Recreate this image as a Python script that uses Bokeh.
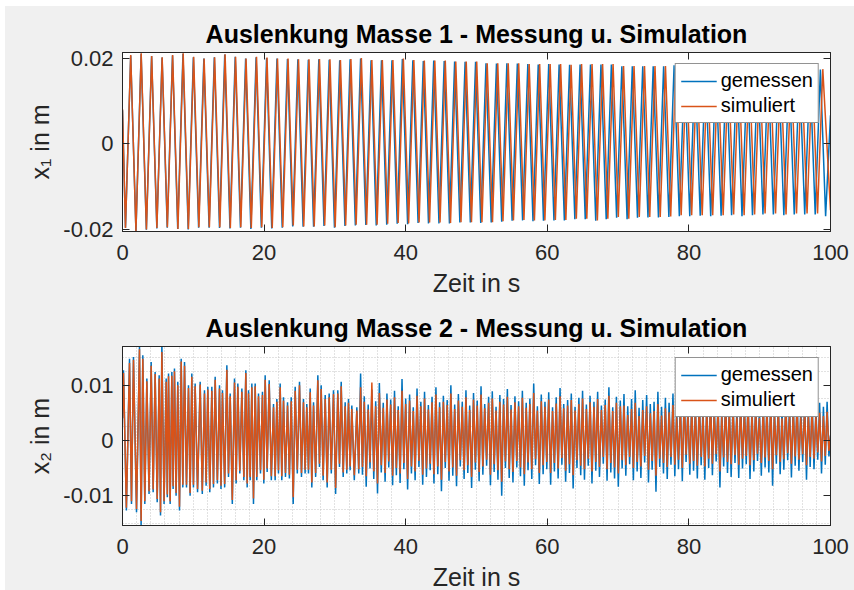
from bokeh.plotting import figure
from bokeh.models import (FixedTicker, Legend, LegendItem, LinearAxis, Range1d, Column)
from bokeh.embed import file_html
from bokeh.resources import INLINE

# ---------------- data (values in mm) ----------------
x_ticks = [0, 20, 40, 60, 80, 100]
y1_ticks = [-0.02, 0, 0.02]
y1_tick_labels = ["-0.02", "0", "0.02"]
y2_ticks = [-0.01, 0, 0.01]
y2_tick_labels = ["-0.01", "0", "0.01"]

titles = ["Auslenkung Masse 1 - Messung u. Simulation",
          "Auslenkung Masse 2 - Messung u. Simulation"]
x_label = "Zeit in s"
y_labels = ["x\u2081 in m", "x\u2082 in m"]
series_names = ["gemessen", "simuliert"]

# Mass 1: extrema times (alternating trough / peak), start value, trough and peak values
x1_meas_start = 7.9
x1_meas_t = [0.42, 1.16, 1.90, 2.63, 3.37, 4.11, 4.85, 5.59, 6.32, 7.06,
             7.80, 8.54, 9.28, 10.01, 10.75, 11.49, 12.23, 12.97, 13.70, 14.44,
             15.18, 15.92, 16.66, 17.39, 18.13, 18.87, 19.61, 20.35, 21.08, 21.82,
             22.56, 23.30, 24.04, 24.77, 25.51, 26.25, 26.99, 27.73, 28.46, 29.20,
             29.94, 30.68, 31.42, 32.15, 32.89, 33.63, 34.37, 35.11, 35.84, 36.58,
             37.32, 38.06, 38.80, 39.53, 40.27, 41.01, 41.75, 42.49, 43.22, 43.96,
             44.70, 45.44, 46.18, 46.91, 47.65, 48.39, 49.13, 49.87, 50.60, 51.34,
             52.08, 52.82, 53.56, 54.29, 55.03, 55.77, 56.51, 57.25, 57.98, 58.72,
             59.46, 60.20, 60.94, 61.67, 62.41, 63.15, 63.89, 64.63, 65.36, 66.10,
             66.84, 67.58, 68.32, 69.05, 69.79, 70.53, 71.27, 72.01, 72.74, 73.48,
             74.22, 74.96, 75.70, 76.43, 77.17, 77.91, 78.65, 79.39, 80.12, 80.86,
             81.60, 82.34, 83.08, 83.81, 84.55, 85.29, 86.03, 86.77, 87.50, 88.24,
             88.98, 89.72, 90.46, 91.19, 91.93, 92.67, 93.41, 94.15, 94.88, 95.62,
             96.36, 97.10, 97.84, 98.57, 99.31, 100.0]
x1_meas_low = [-19.6, -20.5, -20.1, -19.8, -19.6, -19.9, -20.0, -19.6, -19.6, -19.7,
               -19.8, -19.6, -19.9, -19.6, -19.8, -19.6, -19.3, -19.4, -19.4, -19.2,
               -19.6, -19.2, -19.1, -19.0, -19.1, -18.9, -18.7, -18.8, -18.5, -18.6,
               -18.6, -18.6, -18.4, -18.4, -18.5, -18.4, -18.2, -18.0, -17.9, -18.1,
               -18.0, -17.9, -17.9, -17.6, -17.6, -18.0, -17.6, -17.3, -17.6, -17.3,
               -17.2, -17.2, -17.1, -16.9, -16.9, -16.8, -16.9, -16.8, -16.7, -16.9,
               -16.7, -16.5, -16.5, -16.7, -16.5, -16.5, -16.5, -16.9]
x1_meas_high = [20.7, 21.1, 20.6, 20.2, 20.7, 21.1, 20.3, 20.0, 20.3, 20.9,
                20.4, 20.0, 20.3, 20.1, 20.0, 19.9, 19.8, 19.7, 19.8, 19.7,
                19.6, 19.8, 20.0, 19.6, 19.6, 19.6, 19.9, 19.6, 19.4, 19.5,
                19.4, 19.3, 19.2, 19.2, 18.9, 18.8, 18.9, 18.8, 18.7, 18.6,
                18.7, 18.6, 18.5, 18.6, 18.6, 18.6, 18.6, 18.2, 18.2, 18.2,
                18.2, 18.2, 18.4, 18.1, 18.0, 18.0, 17.9, 17.9, 17.8, 17.8,
                17.7, 17.7, 17.7, 17.6, 17.6, 17.5, 17.4, 6.7]

x1_sim_start = 8.1
x1_sim_t = [0.42, 1.16, 1.90, 2.64, 3.38, 4.12, 4.86, 5.60, 6.34, 7.08,
            7.83, 8.57, 9.31, 10.05, 10.79, 11.53, 12.27, 13.01, 13.75, 14.49,
            15.23, 15.97, 16.71, 17.45, 18.19, 18.93, 19.67, 20.41, 21.15, 21.89,
            22.64, 23.38, 24.12, 24.86, 25.60, 26.34, 27.08, 27.82, 28.56, 29.30,
            30.04, 30.78, 31.52, 32.26, 33.00, 33.74, 34.48, 35.22, 35.96, 36.70,
            37.45, 38.19, 38.93, 39.67, 40.41, 41.15, 41.89, 42.63, 43.37, 44.11,
            44.85, 45.59, 46.33, 47.07, 47.81, 48.55, 49.29, 50.03, 50.77, 51.51,
            52.26, 53.00, 53.74, 54.48, 55.22, 55.96, 56.70, 57.44, 58.18, 58.92,
            59.66, 60.40, 61.14, 61.88, 62.62, 63.36, 64.10, 64.84, 65.58, 66.32,
            67.07, 67.81, 68.55, 69.29, 70.03, 70.77, 71.51, 72.25, 72.99, 73.73,
            74.47, 75.21, 75.95, 76.69, 77.43, 78.17, 78.91, 79.65, 80.39, 81.13,
            81.88, 82.62, 83.36, 84.10, 84.84, 85.58, 86.32, 87.06, 87.80, 88.54,
            89.28, 90.02, 90.76, 91.50, 92.24, 92.98, 93.72, 94.46, 95.20, 95.94,
            96.69, 97.43, 98.17, 98.91, 100.0]
x1_sim_low = [-19.7, -20.4, -20.0, -19.7, -19.5, -19.9, -19.9, -19.5, -19.5, -19.5,
              -19.7, -19.5, -19.7, -19.5, -19.7, -19.5, -19.1, -19.3, -19.3, -19.1,
              -19.5, -19.1, -18.9, -18.9, -18.9, -18.7, -18.5, -18.6, -18.4, -18.4,
              -18.4, -18.5, -18.3, -18.3, -18.3, -18.3, -18.1, -17.9, -17.8, -17.9,
              -17.9, -17.8, -17.8, -17.5, -17.5, -17.9, -17.5, -17.1, -17.5, -17.1,
              -17.1, -17.1, -17.0, -16.7, -16.7, -16.7, -16.7, -16.7, -16.5, -16.7,
              -16.5, -16.3, -16.3, -16.5, -16.3, -16.3, -16.3, -15.5]
x1_sim_high = [20.8, 21.2, 20.6, 20.3, 20.8, 21.2, 20.4, 20.0, 20.3, 21.0,
               20.4, 20.0, 20.4, 20.2, 20.0, 20.0, 19.8, 19.8, 19.9, 19.8,
               19.65, 19.9, 20.1, 19.65, 19.65, 19.65, 20.0, 19.65, 19.5, 19.5,
               19.5, 19.3, 19.3, 19.3, 18.9, 18.9, 18.9, 18.9, 18.7, 18.7,
               18.7, 18.7, 18.5, 18.7, 18.7, 18.7, 18.7, 18.25, 18.25, 18.25,
               18.25, 18.25, 18.5, 18.2, 18.1, 18.1, 18.0, 18.0, 17.9, 17.9,
               17.8, 17.8, 17.8, 17.7, 17.7, 17.6, 17.5]

# Mass 2: peak times, trough times (shared by both series), values per series
x2_peak_t = [0.14, 0.99, 1.55, 2.40, 2.87, 3.44, 4.05, 4.61, 5.18, 5.56,
             6.17, 6.50, 6.97, 7.34, 7.81, 8.29, 8.76, 9.32, 9.79, 10.26,
             10.97, 11.58, 12.05, 12.62, 13.09, 13.70, 14.12, 14.74, 15.21, 15.82,
             16.29, 16.86, 17.42, 17.80, 18.27, 18.74, 19.21, 19.77, 20.15, 20.72,
             21.33, 21.80, 22.27, 22.74, 23.31, 23.83, 24.39, 25.00, 25.56, 26.03,
             26.51, 26.98, 27.59, 28.06, 28.63, 29.19, 29.80, 30.41, 30.89, 31.45,
             31.92, 32.39, 33.10,
             33.63, 34.15, 34.70, 35.22, 35.76, 36.28, 36.83, 37.35, 37.88, 38.42,
             38.94, 39.48, 40.00, 40.55, 41.07, 41.60, 42.14, 42.66, 43.20, 43.72,
             44.27, 44.79, 45.32, 45.86, 46.38, 46.92, 47.44, 47.99, 48.51, 49.04,
             49.58, 50.10, 50.64, 51.16, 51.71, 52.23, 52.76, 53.30, 53.82, 54.36,
             54.88, 55.43, 55.95, 56.48, 57.02, 57.54, 58.08, 58.60, 59.15, 59.67,
             60.20, 60.74, 61.26, 61.80, 62.32, 62.87, 63.39, 63.92, 64.46, 64.98,
             65.52, 66.04, 66.59, 67.11, 67.64, 68.18, 68.70, 69.24, 69.76, 70.31,
             70.83, 71.36, 71.90, 72.42, 72.96, 73.48, 74.03, 74.55, 75.08, 75.62,
             76.14, 76.68, 77.20, 77.75, 78.27, 78.80, 79.34, 79.86, 80.40, 80.92,
             81.47, 81.99, 82.52, 83.06, 83.58, 84.12, 84.64, 85.19, 85.71, 86.24,
             86.78, 87.30, 87.84, 88.36, 88.91, 89.43, 89.96, 90.50, 91.02, 91.56,
             92.08, 92.63, 93.15, 93.68, 94.22, 94.74, 95.28, 95.80, 96.35, 96.87,
             97.40, 97.94, 98.46, 99.00, 99.52]
x2_trough_t = [0.55, 1.27, 1.98, 2.63, 3.15, 3.75, 4.33, 4.90, 5.37, 5.87,
               6.33, 6.73, 7.15, 7.57, 8.05, 8.52, 9.04, 9.55, 10.02, 10.60,
               11.27, 11.81, 12.33, 12.85, 13.40, 13.91, 14.43, 14.97, 15.51, 16.05,
               16.57, 17.14, 17.61, 18.03, 18.50, 18.97, 19.49, 19.96, 20.43, 21.02,
               21.56, 22.03, 22.50, 23.02, 23.57, 24.11, 24.69, 25.28, 25.79, 26.27,
               26.74, 27.28, 27.82, 28.34, 28.91, 29.49, 30.10, 30.65, 31.17, 31.68,
               32.15, 32.74, 33.37,
               33.89, 34.42, 34.96, 35.49, 36.02, 36.55, 37.09, 37.61, 38.15, 38.68,
               39.21, 39.74, 40.27, 40.81, 41.33, 41.87, 42.40, 42.93, 43.46, 43.99,
               44.53, 45.05, 45.59, 46.12, 46.65, 47.18, 47.71, 48.25, 48.77, 49.31,
               49.84, 50.37, 50.90, 51.43, 51.97, 52.49, 53.03, 53.56, 54.09, 54.62,
               55.15, 55.69, 56.21, 56.75, 57.28, 57.81, 58.34, 58.87, 59.41, 59.93,
               60.47, 61.00, 61.53, 62.06, 62.59, 63.13, 63.65, 64.19, 64.72, 65.25,
               65.78, 66.31, 66.85, 67.37, 67.91, 68.44, 68.97, 69.50, 70.03, 70.57,
               71.09, 71.63, 72.16, 72.69, 73.22, 73.75, 74.29, 74.81, 75.35, 75.88,
               76.41, 76.94, 77.47, 78.01, 78.53, 79.07, 79.60, 80.13, 80.66, 81.19,
               81.73, 82.25, 82.79, 83.32, 83.85, 84.38, 84.91, 85.45, 85.97, 86.51,
               87.04, 87.57, 88.10, 88.63, 89.17, 89.69, 90.23, 90.76, 91.29, 91.82,
               92.35, 92.89, 93.41, 93.95, 94.48, 95.01, 95.54, 96.07, 96.61, 97.13,
               97.67, 98.20, 98.73, 99.26, 99.78]
x2_start = [4.0, 4.0]
x2_end = [1.0, 0.8]

x2_meas_peak = [12.7, 14.8, 15.1, 16.9, 15.4, 11.2, 14.2, 12.4, 11.8, 17.8,
                11.2, 12.1, 12.4, 13.0, 10.6, 14.8, 14.2, 10.0, 12.1, 10.3,
                10.6, 9.1, 9.7, 9.7, 11.5, 10.0, 9.1, 13.6, 8.5, 11.2,
                10.3, 9.4, 12.7, 9.1, 10.3, 10.3, 8.5, 8.8, 11.8, 10.9,
                6.6, 7.5, 10.3, 7.8, 6.9, 7.8, 9.7, 10.6, 7.5, 6.6,
                9.4, 6.9, 11.8, 10.0, 8.2, 8.5, 9.1, 9.1, 10.6, 6.9,
                7.5, 6.3, 6.0,
                12.1, 8.0, 6.5, 9.2, 7.1, 10.4, 6.8, 8.5, 7.4, 9.0,
                6.2, 11.1, 7.6, 8.3, 6.0, 9.4, 7.0, 8.8, 6.4, 7.9,
                9.6, 6.9, 8.1, 7.3, 10.0, 6.5, 8.4, 7.0, 9.1, 6.3,
                8.6, 7.2, 9.8, 6.6, 7.9, 8.9, 6.1, 8.2, 7.5, 9.3,
                6.4, 8.0, 7.1, 9.0, 6.8, 7.6, 10.3, 6.2, 8.3, 7.0,
                8.7, 6.0, 7.8, 9.5, 6.6, 7.3, 8.5, 6.1, 7.7, 9.0,
                6.5, 8.1, 7.0, 8.8, 6.3, 7.4, 9.6, 6.0, 7.9, 7.2,
                8.4, 6.2, 7.5, 9.1, 5.9, 7.3, 8.2, 6.6, 7.0, 8.8,
                6.1, 7.7, 6.8, 8.5, 5.8, 7.2, 9.0, 6.3, 7.5, 6.9,
                8.1, 5.9, 7.0, 8.6, 6.4, 7.4, 6.0, 8.3, 6.7, 7.1,
                5.8, 7.9, 6.5, 8.0, 6.2, 7.3, 5.7, 7.6, 6.9, 8.2,
                6.0, 7.1, 5.6, 7.8, 6.4, 6.9, 8.1, 5.8, 7.2, 6.3,
                7.5, 5.9, 6.8, 6.1, 7.0]
x2_meas_trough = [-12.7, -11.5, -13.0, -15.4, -11.5, -9.7, -9.4, -11.2, -13.6, -11.5,
                  -10.3, -11.5, -8.8, -10.0, -12.7, -8.5, -8.5, -10.0, -8.5, -9.4,
                  -9.7, -8.2, -9.4, -8.5, -7.8, -8.8, -8.5, -6.6, -11.5, -7.8,
                  -6.0, -7.2, -8.5, -7.2, -11.5, -7.2, -6.0, -7.8, -5.7, -7.2,
                  -7.2, -6.0, -7.2, -6.6, -6.9, -11.5, -6.0, -6.6, -6.0, -6.0,
                  -8.5, -6.6, -4.8, -7.2, -8.5, -6.0, -9.7, -4.8, -6.6, -6.0,
                  -5.4, -7.2, -6.0,
                  -6.2, -8.4, -5.1, -7.0, -9.6, -5.8, -7.5, -4.9, -8.1, -6.3,
                  -7.7, -5.2, -8.9, -6.0, -7.2, -4.8, -8.0, -6.6, -5.4, -7.8,
                  -6.1, -9.2, -5.0, -7.3, -6.4, -8.3, -4.7, -7.0, -5.9, -8.6,
                  -5.3, -7.4, -6.2, -4.6, -8.1, -5.7, -7.1, -10.0, -5.0, -6.8,
                  -7.6, -4.9, -6.5, -8.2, -5.4, -7.0, -4.5, -7.9, -6.1, -5.2,
                  -8.0, -5.6, -6.9, -4.4, -7.5, -5.9, -8.7, -5.0, -6.3, -7.1,
                  -4.6, -7.8, -5.5, -6.6, -4.2, -7.3, -5.8, -6.9, -8.4, -5.1,
                  -6.4, -4.3, -7.2, -5.6, -6.8, -4.0, -7.6, -5.3, -9.3, -4.8,
                  -6.0, -7.0, -4.4, -6.5, -5.2, -7.4, -3.9, -6.2, -5.5, -6.9,
                  -4.5, -7.1, -5.0, -6.3, -3.8, -8.5, -4.7, -5.9, -6.6, -4.1,
                  -6.8, -5.1, -4.3, -7.0, -5.6, -3.7, -6.4, -4.9, -5.8, -8.2,
                  -4.2, -6.1, -5.3, -3.6, -6.7, -4.6, -5.5, -3.9, -7.1, -4.8,
                  -5.2, -3.5, -6.0, -4.4, -2.9]
x2_sim_peak = [12.2, 14.0, 14.6, 16.5, 14.8, 10.7, 13.5, 12.0, 11.2, 16.0,
               10.6, 11.6, 11.7, 12.5, 10.0, 14.3, 13.5, 9.5, 11.5, 9.8,
               10.1, 8.5, 9.2, 9.0, 11.0, 9.4, 8.6, 12.8, 8.0, 10.5,
               9.7, 8.8, 12.2, 8.5, 9.6, 9.8, 8.0, 8.2, 11.0, 10.2,
               6.0, 7.0, 9.6, 7.2, 6.3, 7.1, 9.0, 10.0, 6.9, 6.0,
               8.7, 6.3, 10.9, 9.3, 7.5, 7.8, 8.4, 8.5, 9.8, 6.2,
               6.8, 5.7, 5.4,
               9.6, 7.0, 5.6, 10.5, 6.2, 8.6, 5.9, 7.4, 6.5, 7.8,
               5.5, 9.0, 6.6, 7.2, 5.3, 8.1, 6.2, 7.6, 5.6, 6.9,
               8.3, 6.0, 7.0, 6.4, 8.5, 5.7, 7.2, 6.1, 7.8, 5.5,
               7.4, 6.3, 8.3, 5.8, 6.8, 7.6, 5.4, 7.0, 6.5, 7.9,
               5.6, 6.9, 6.2, 7.7, 5.9, 6.6, 8.6, 5.4, 7.1, 6.1,
               7.4, 5.3, 6.7, 8.0, 5.8, 6.3, 7.3, 5.4, 6.6, 7.6,
               5.7, 6.9, 6.1, 7.5, 5.5, 6.4, 8.1, 5.3, 6.8, 6.2,
               6.3, 4.6, 5.7, 6.8, 4.4, 5.5, 6.2, 4.9, 5.3, 6.6,
               4.5, 5.8, 5.1, 6.4, 4.2, 5.4, 6.7, 4.7, 5.6, 5.2,
               6.1, 4.3, 5.2, 6.4, 4.7, 5.5, 4.4, 6.2, 5.0, 5.3,
               4.2, 5.9, 4.8, 6.0, 4.6, 5.4, 4.1, 5.6, 5.1, 6.1,
               4.4, 5.3, 4.0, 5.8, 4.7, 5.1, 6.0, 4.2, 5.3, 4.6,
               5.5, 4.3, 5.0, 4.4, 5.2]
x2_sim_trough = [-12.2, -11.0, -12.4, -14.6, -11.0, -9.2, -8.9, -10.6, -13.0, -11.0,
                 -9.8, -11.0, -8.3, -9.5, -12.0, -8.0, -8.0, -9.5, -8.0, -8.8,
                 -9.1, -7.6, -8.8, -7.9, -7.2, -8.2, -7.9, -6.0, -10.8, -7.2,
                 -5.5, -6.6, -7.8, -6.6, -10.5, -6.6, -5.4, -7.1, -5.1, -6.5,
                 -6.5, -5.4, -6.5, -5.9, -6.2, -10.3, -5.3, -5.9, -5.3, -5.3,
                 -7.6, -5.9, -4.2, -6.4, -7.6, -5.3, -8.6, -4.2, -5.8, -5.3,
                 -4.7, -6.3, -5.2,
                 -4.8, -6.5, -4.0, -5.6, -7.8, -4.5, -5.9, -3.8, -6.4, -5.0,
                 -6.0, -4.1, -7.0, -4.7, -5.6, -3.7, -6.2, -5.1, -4.2, -6.1,
                 -4.7, -7.1, -3.9, -5.6, -4.9, -6.4, -3.6, -5.4, -4.5, -6.6,
                 -4.0, -5.7, -4.7, -3.5, -6.2, -4.3, -5.4, -7.5, -3.8, -5.2,
                 -5.7, -3.7, -4.9, -6.1, -4.0, -5.2, -3.4, -5.9, -4.5, -3.9,
                 -5.9, -4.1, -5.1, -3.2, -5.5, -4.3, -6.3, -3.6, -4.6, -5.2,
                 -3.3, -5.6, -3.9, -4.8, -3.0, -5.2, -4.1, -4.9, -6.0, -3.6,
                 -4.5, -3.0, -5.0, -3.9, -4.7, -2.8, -5.3, -3.7, -6.4, -3.3,
                 -4.1, -4.8, -3.0, -4.4, -3.5, -5.0, -2.6, -4.2, -3.7, -4.6,
                 -3.0, -4.7, -3.3, -4.2, -2.5, -5.6, -3.1, -3.9, -4.3, -2.7,
                 -4.4, -3.3, -2.8, -4.5, -3.6, -2.4, -4.1, -3.1, -3.7, -5.2,
                 -2.7, -3.9, -3.4, -2.3, -4.2, -2.9, -3.5, -2.5, -4.5, -3.0,
                 -3.3, -2.2, -3.8, -2.8, -1.9]

# ---------------- building the series ----------------
def alternate(times, lows, highs, start):
    ts, vs = [0.0], [start / 1000.0]
    for i, t in enumerate(times):
        src = lows if i % 2 == 0 else highs
        k = i // 2
        if k < len(src):
            ts.append(t)
            vs.append(src[k] / 1000.0)
    return ts, vs


def merge(peak_t, peak_v, trough_t, trough_v, start, end):
    pts = sorted(list(zip(peak_t, peak_v)) + list(zip(trough_t, trough_v)))
    ts = [0.0] + [p[0] for p in pts] + [100.0]
    vs = [start / 1000.0] + [p[1] / 1000.0 for p in pts] + [end / 1000.0]
    return ts, vs


x1m_t, x1m_v = alternate(x1_meas_t, x1_meas_low, x1_meas_high, x1_meas_start)
x1s_t, x1s_v = alternate(x1_sim_t, x1_sim_low, x1_sim_high, x1_sim_start)
x2m_t, x2m_v = merge(x2_peak_t, x2_meas_peak, x2_trough_t, x2_meas_trough, x2_start[0], x2_end[0])
x2s_t, x2s_v = merge(x2_peak_t, x2_sim_peak, x2_trough_t, x2_sim_trough, x2_start[1], x2_end[1])

# ---------------- styling ----------------
FONT = "Liberation Sans"
BG = "#f0f0f0"
AX = "#262626"
BLUE = "#0072BD"
ORANGE = "#D95319"


def style_axis(ax):
    ax.axis_line_color = AX
    ax.major_tick_line_color = AX
    ax.major_tick_in = 7
    ax.major_tick_out = 0
    ax.minor_tick_line_color = None
    ax.major_label_text_font = FONT
    ax.major_label_text_font_size = "22px"
    ax.major_label_text_color = AX
    ax.axis_label_text_font = FONT
    ax.axis_label_text_font_size = "25px"
    ax.axis_label_text_font_style = "normal"
    ax.axis_label_text_color = AX


def make_panel(title, ylabel, yr, yticks, ylabels, meas, sim, border_top, border_bottom, minor):
    p = figure(frame_width=708, frame_height=179,
               x_range=Range1d(0, 100), y_range=Range1d(*yr),
               output_backend="svg", toolbar_location=None,
               min_border_left=117, min_border_right=24,
               min_border_top=border_top, min_border_bottom=border_bottom,
               border_fill_color=BG, background_fill_color="white",
               outline_line_color=AX, outline_line_width=1)
    p.title.text = title
    p.title.align = "center"
    p.title.text_font = FONT
    p.title.text_font_size = "25px"
    p.title.text_font_style = "bold"
    p.title.text_color = "#000000"
    p.title.standoff = 10

    p.xaxis.ticker = FixedTicker(ticks=x_ticks)
    p.yaxis.ticker = FixedTicker(ticks=yticks)
    p.yaxis.major_label_overrides = {t: l for t, l in zip(yticks, ylabels)}
    p.xaxis.axis_label = x_label
    p.yaxis.axis_label = ylabel
    for ax in p.xaxis + p.yaxis:
        style_axis(ax)
    p.xaxis.major_label_standoff = 13
    p.xaxis.axis_label_standoff = 6
    p.yaxis.major_label_standoff = 9
    p.yaxis.axis_label_standoff = 6

    # box ticks on the opposite sides
    top = LinearAxis(ticker=FixedTicker(ticks=x_ticks),
                     major_label_overrides={t: "" for t in x_ticks})
    right = LinearAxis(ticker=FixedTicker(ticks=yticks),
                       major_label_overrides={t: "" for t in yticks})
    for ax in (top, right):
        style_axis(ax)
        ax.major_label_text_font_size = "0px"
        ax.major_label_standoff = 0
    p.add_layout(top, "above")
    p.add_layout(right, "right")

    if minor:
        xm = [t for t in range(0, 101, 2) if t % 20 != 0]
        ym = [k * 0.0025 for k in range(-6, 7) if k % 4 != 0]
        p.xgrid.ticker = FixedTicker(ticks=xm)
        p.ygrid.ticker = FixedTicker(ticks=ym)
        for g in (p.xgrid, p.ygrid):
            g.grid_line_color = "#c4c4c4"
            g.grid_line_dash = "1 2"
            g.grid_line_width = 1
    else:
        p.xgrid.visible = False
        p.ygrid.visible = False

    r1 = p.line(meas[0], meas[1], line_color=BLUE, line_width=1.5)
    r2 = p.line(sim[0], sim[1], line_color=ORANGE, line_width=1.5)

    legend = Legend(items=[LegendItem(label=series_names[0], renderers=[r1]),
                           LegendItem(label=series_names[1], renderers=[r2])],
                    location="top_right")
    legend.label_text_font = FONT
    legend.label_text_font_size = "20px"
    legend.label_text_color = "#000000"
    legend.border_line_color = AX
    legend.border_line_width = 1
    legend.background_fill_color = "white"
    legend.background_fill_alpha = 1.0
    legend.glyph_width = 36
    legend.glyph_height = 22
    legend.label_height = 22
    legend.label_standoff = 4
    legend.padding = 5
    legend.spacing = 2
    legend.margin = 11
    p.add_layout(legend)
    return p


p1 = make_panel(titles[0], y_labels[0], (-0.0205, 0.0214), y1_ticks, y1_tick_labels,
                (x1m_t, x1m_v), (x1s_t, x1s_v), 46, 72, False)
p2 = make_panel(titles[1], y_labels[1], (-0.0154, 0.0170), y2_ticks, y2_tick_labels,
                (x2m_t, x2m_v), (x2s_t, x2s_v), 43, 72, True)

layout = Column(children=[p1, p2], spacing=0, margin=(6, 0, 0, 5),
                styles={"background-color": BG})

open("out.html", "w").write(file_html(layout, INLINE))
